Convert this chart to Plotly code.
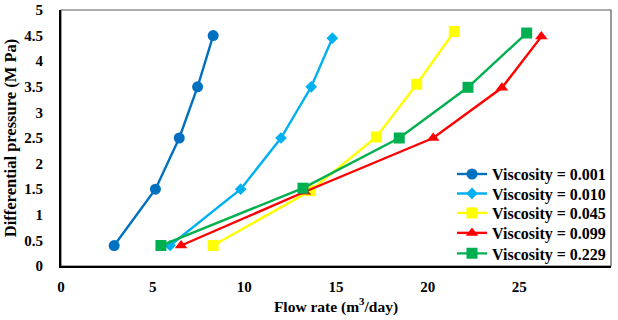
import plotly.graph_objects as go

# Flow rate (m3/day) vs differential pressure (MPa) for each viscosity
names = ["Viscosity = 0.001", "Viscosity = 0.010", "Viscosity = 0.045",
         "Viscosity = 0.099", "Viscosity = 0.229"]

flow_0001 = [2.9, 5.15, 6.45, 7.45, 8.3]
dp_0001 = [0.4, 1.5, 2.5, 3.5, 4.5]

flow_0010 = [5.95, 9.8, 12.0, 13.65, 14.8]
dp_0010 = [0.4, 1.5, 2.5, 3.5, 4.45]

flow_0045 = [8.3, 13.6, 17.2, 19.4, 21.45]
dp_0045 = [0.4, 1.47, 2.52, 3.55, 4.58]

flow_0099 = [6.55, 13.3, 20.3, 24.05, 26.2]
dp_0099 = [0.4, 1.45, 2.5, 3.48, 4.48]

flow_0229 = [5.45, 13.2, 18.45, 22.2, 25.4]
dp_0229 = [0.4, 1.52, 2.5, 3.49, 4.55]

colors = ["#0070C0", "#00B0F0", "#FFFF00", "#FF0000", "#00B050"]
symbols = ["circle", "diamond", "square", "triangle-up", "square"]
sizes = [11, 9, 11, 11, 11]

xs = [flow_0001, flow_0010, flow_0045, flow_0099, flow_0229]
ys = [dp_0001, dp_0010, dp_0045, dp_0099, dp_0229]

x_ticks = [0, 5, 10, 15, 20, 25, 30]
y_ticks = [0, 0.5, 1, 1.5, 2, 2.5, 3, 3.5, 4, 4.5, 5]

FONT = "Liberation Serif"
TICK_SIZE = 15
LEGEND_SIZE = 16

# one legend box per series so the rows sit close together
legend_ids = ["legend", "legend2", "legend3", "legend4", "legend5"]
legend_rows = [0.359, 0.283, 0.207, 0.129, 0.049]

fig = go.Figure()
for name, x, y, c, s, sz, lg in zip(names, xs, ys, colors, symbols, sizes, legend_ids):
    fig.add_trace(go.Scatter(
        x=x, y=y, name=name, mode="lines+markers", legend=lg,
        line=dict(color=c, width=2.4),
        marker=dict(color=c, symbol=s, size=sz, line=dict(width=0)),
    ))

# thin grey frame around the plotting area
fig.add_shape(type="rect", xref="paper", yref="paper", x0=0, y0=0, x1=1, y1=1,
              line=dict(color="#595959", width=1.2), layer="below")

legend_style = dict(
    x=1.0, xanchor="right", yanchor="middle",
    bgcolor="rgba(255,255,255,0)", borderwidth=0,
    font=dict(family=FONT, size=LEGEND_SIZE, color="black", weight="bold"),
    itemwidth=30,
)

fig.update_layout(
    width=618, height=320,
    margin=dict(l=61, r=7, t=10, b=54, autoexpand=False),
    paper_bgcolor="white", plot_bgcolor="white",
    font=dict(family=FONT, size=TICK_SIZE, color="black", weight="bold"),
    showlegend=True,
    **{lg: dict(legend_style, y=row) for lg, row in zip(legend_ids, legend_rows)},
)

fig.update_xaxes(
    range=[0, 30], tickvals=x_ticks, ticktext=[str(v) for v in x_ticks],
    showgrid=False, zeroline=False, showline=True, linecolor="black", linewidth=2,
    ticks="", ticklabelstandoff=6, automargin=False,
    tickfont=dict(family=FONT, size=TICK_SIZE, weight="bold"),
    title=dict(text="Flow rate (m<sup>3</sup>/day)", standoff=6,
               font=dict(family=FONT, size=15.5, weight="bold")),
)
fig.update_yaxes(
    range=[0, 5], tickvals=y_ticks, ticktext=[f"{v:g}" for v in y_ticks],
    showgrid=False, zeroline=False, showline=True, linecolor="black", linewidth=2,
    ticks="", ticklabelstandoff=13, automargin=False,
    tickfont=dict(family=FONT, size=TICK_SIZE, weight="bold"),
    title=dict(text="Differential pressure (M Pa)", standoff=3,
               font=dict(family=FONT, size=16.5, weight="bold")),
)

fig.write_html("out.html")
